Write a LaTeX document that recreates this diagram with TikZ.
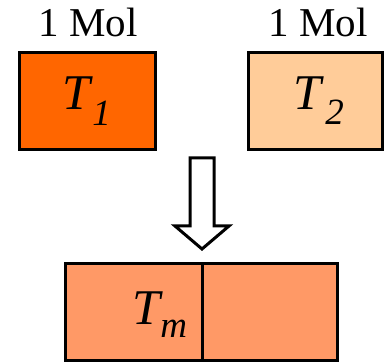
\documentclass[tikz,border=0pt]{standalone}
\usepackage{fontspec}
\setmainfont{Liberation Serif}
\begin{document}
\begin{tikzpicture}[x=1pt,y=-1pt,
  box/.style={draw=black,line width=3pt},
  mol/.style={font=\fontsize{41}{44}\selectfont,anchor=base,inner sep=0pt},
  temp/.style={font=\fontsize{50}{52}\selectfont\itshape,anchor=base west,inner sep=0pt},
  sub/.style={font=\fontsize{37}{40}\selectfont\itshape,anchor=base west,inner sep=0pt}]
\useasboundingbox (0,0) rectangle (384,363);
\definecolor{hot}{HTML}{FF6600}
\definecolor{cold}{HTML}{FFCC99}
\definecolor{mixed}{HTML}{FF9966}
% the two starting bodies
\draw[box,fill=hot] (19.5,52.5) rectangle (155.5,149.5);
\draw[box,fill=cold] (248,52.5) rectangle (382,149.5);
\node[mol] (mol1) at (88,37) {1 Mol};
\node[mol] (mol2) at (318,37) {1 Mol};
\node[temp] (t1) at (62,110) {T};
\node[sub] (s1) at (t1.base east) [yshift=-16pt,xshift=2pt] {1};
\node[temp] (t2) at (293,110) {T};
\node[sub] (s2) at (t2.base east) [yshift=-15pt,xshift=4pt] {2};
% hollow block arrow
\draw[line width=3pt,fill=white,line join=miter]
  (190,158) -- (214,158) -- (214,226) -- (229,226) -- (202,249)
  -- (175,226) -- (190,226) -- cycle;
% the mixed body after contact
\draw[box,fill=mixed] (65,264) rectangle (337,361);
\draw[line width=3pt] (202,264) -- (202,361);
\node[temp] (tm) at (132,325) {T};
\node[sub] (sm) at (tm.base east) [yshift=-13pt,xshift=0pt] {m};
\end{tikzpicture}
\end{document}
